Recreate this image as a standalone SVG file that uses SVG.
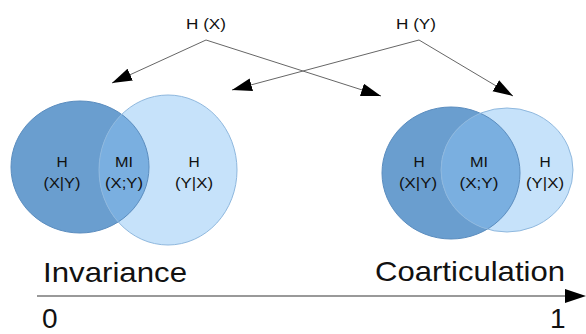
<svg xmlns="http://www.w3.org/2000/svg" width="586" height="334" viewBox="0 0 586 334">
<style>
text{font-family:"Liberation Sans",Arial,sans-serif;fill:#111}
.lbl{font-size:15.5px;text-anchor:middle}
.big{font-size:28px}
.dark{fill:#6a9ecf}
.light{fill:#c6e2fa}
.ov{fill:#7aafe0}
.ds{fill:none;stroke:#5b8dbf;stroke-width:1}
.ls{fill:none;stroke:#8fb8de;stroke-width:1}
.conn{fill:none;stroke:#666;stroke-width:1;marker-end:url(#ah)}
</style>
<defs>
<marker id="ah" markerUnits="userSpaceOnUse" markerWidth="22" markerHeight="14" refX="20" refY="6.5" orient="auto">
<path d="M0,0 L20,6.5 L0,13 z" fill="#000"/>
</marker>
<clipPath id="cl1"><ellipse cx="80" cy="167" rx="69" ry="66"/></clipPath>
<clipPath id="cl2"><ellipse cx="451" cy="173" rx="69" ry="66"/></clipPath>
</defs>
<rect width="586" height="334" fill="#fff"/>

<g id="hx"><text class="lbl" x="206" y="29" textLength="40" lengthAdjust="spacingAndGlyphs">H (X)</text></g>
<g id="hy"><text class="lbl" x="416" y="29" textLength="40" lengthAdjust="spacingAndGlyphs">H (Y)</text></g>

<g id="venn-left">
<ellipse class="dark" cx="80" cy="167" rx="69" ry="66"/>
<ellipse class="light" cx="168" cy="170" rx="69" ry="75"/>
<ellipse class="ov" cx="168" cy="170" rx="69" ry="75" clip-path="url(#cl1)"/>
<ellipse class="ds" cx="80" cy="167" rx="69" ry="66"/>
<ellipse class="ls" cx="168" cy="170" rx="69" ry="75"/>
<text class="lbl" x="62" y="167">H</text>
<text class="lbl" x="62" y="188" textLength="37" lengthAdjust="spacingAndGlyphs">(X|Y)</text>
<text class="lbl" x="124" y="167" textLength="18" lengthAdjust="spacingAndGlyphs">MI</text>
<text class="lbl" x="124" y="188" textLength="38" lengthAdjust="spacingAndGlyphs">(X;Y)</text>
<text class="lbl" x="194" y="167">H</text>
<text class="lbl" x="194" y="188" textLength="38" lengthAdjust="spacingAndGlyphs">(Y|X)</text>
</g>

<g id="venn-right">
<ellipse class="dark" cx="451" cy="173" rx="69" ry="66"/>
<ellipse class="light" cx="507" cy="170" rx="66" ry="62"/>
<ellipse class="ov" cx="507" cy="170" rx="66" ry="62" clip-path="url(#cl2)"/>
<ellipse class="ds" cx="451" cy="173" rx="69" ry="66"/>
<ellipse class="ls" cx="507" cy="170" rx="66" ry="62"/>
<text class="lbl" x="419" y="167">H</text>
<text class="lbl" x="418" y="188" textLength="38" lengthAdjust="spacingAndGlyphs">(X|Y)</text>
<text class="lbl" x="479" y="167" textLength="18" lengthAdjust="spacingAndGlyphs">MI</text>
<text class="lbl" x="479" y="188" textLength="39" lengthAdjust="spacingAndGlyphs">(X;Y)</text>
<text class="lbl" x="545" y="167">H</text>
<text class="lbl" x="545" y="188" textLength="38" lengthAdjust="spacingAndGlyphs">(Y|X)</text>
</g>

<g id="axis">
<line x1="37" y1="296" x2="566" y2="296" stroke="#777" stroke-width="1.5"/>
<path d="M565,289 L586,296 L565,303 z" fill="#000"/>
<text class="big" x="43" y="282" textLength="144" lengthAdjust="spacingAndGlyphs">Invariance</text>
<text class="big" x="375" y="281" textLength="190" lengthAdjust="spacingAndGlyphs">Coarticulation</text>
<text class="big" x="42" y="328">0</text>
<text class="big" x="550" y="328">1</text>
</g>

<g id="connectors">
<line class="conn" x1="206" y1="40" x2="112" y2="83"/>
<line class="conn" x1="206" y1="40" x2="381" y2="96"/>
<line class="conn" x1="419" y1="40" x2="232" y2="90"/>
<line class="conn" x1="419" y1="40" x2="513" y2="96"/>
</g>
</svg>
